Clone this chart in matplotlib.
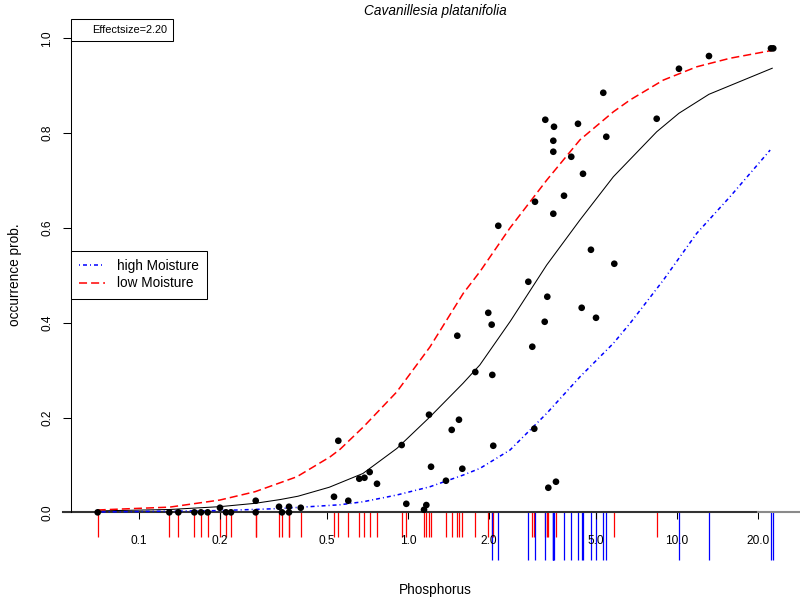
import matplotlib
matplotlib.use("Agg")
import matplotlib.pyplot as plt
from matplotlib.lines import Line2D

plt.rcParams['font.family'] = ['Liberation Sans', 'DejaVu Sans']
plt.rcParams['lines.scale_dashes'] = False

W, H = 800, 599

# sites with low moisture (red rug)
low_p = [0.0702, 0.1296, 0.140, 0.1606, 0.170, 0.180, 0.200, 0.2106, 0.2198,
         0.2716, 0.2716, 0.3315, 0.3401, 0.3611, 0.3611, 0.3993, 0.5308, 0.5507,
         0.5998, 0.659, 0.689, 0.7204, 0.767, 0.9475, 0.9856, 1.147, 1.170,
         1.197, 1.218, 1.384, 1.454, 1.525, 1.547, 1.592, 1.779, 1.988, 2.047,
         2.075, 2.898, 2.948, 3.223, 3.295, 3.324, 3.549, 5.847, 8.406]
low_occ = [0.0, 0.0, 0.0, 0.0, 0.0, 0.0, 0.0097, 0.0, 0.0,
           0.0245, 0.0, 0.0118, 0.0, 0.0118, 0.0, 0.0097, 0.0329, 0.151,
           0.0245, 0.0709, 0.073, 0.085, 0.0603, 0.142, 0.018, 0.0055, 0.0154,
           0.206, 0.0962, 0.0667, 0.174, 0.3726, 0.1954, 0.092, 0.296, 0.421, 0.396,
           0.1405, 0.3494, 0.1764, 0.4021, 0.4549, 0.0519, 0.0646, 0.5245, 0.8304]

# sites with high moisture (blue rug)
high_p = [2.058, 2.166, 2.801, 2.966, 3.239, 3.490, 3.469, 3.469, 3.469, 3.802,
          4.046, 4.285, 4.473, 4.423, 4.788, 5.0, 5.321, 5.460, 10.17, 13.15,
          22.36, 22.80]
high_occ = [0.290, 0.6046, 0.4865, 0.6553, 0.8283, 0.8135, 0.784, 0.7608, 0.63,
            0.668, 0.7502, 0.8198, 0.7143, 0.4316, 0.554, 0.4105, 0.8852, 0.7924,
            0.9359, 0.9627, 0.9789, 0.9789]

# fitted response curves
fit_p = [0.0702, 0.13, 0.2, 0.27, 0.335, 0.39, 0.51, 0.68, 0.91, 1.2, 1.6,
         1.85, 2.4, 3.28, 4.36, 5.8, 8.41, 10.17, 13.15, 22.6]
fit_all = [0.003, 0.006, 0.012, 0.019, 0.027, 0.034, 0.053, 0.082, 0.135, 0.200,
           0.272, 0.311, 0.403, 0.522, 0.617, 0.708, 0.803, 0.842, 0.882, 0.937]

lowfit_p = [0.0702, 0.13, 0.2, 0.27, 0.386, 0.513, 0.559, 0.682, 0.908, 1.207,
            1.605, 1.852, 2.394, 3.28, 4.36, 5.8, 6.69, 8.9, 11.84, 15.74, 22.8]
lowfit = [0.005, 0.011, 0.026, 0.0435, 0.075, 0.117, 0.133, 0.18, 0.254, 0.349,
          0.462, 0.508, 0.600, 0.701, 0.786, 0.845, 0.870, 0.912, 0.940, 0.958, 0.975]

highfit_p = [0.0702, 0.2, 0.334, 0.559, 0.682, 0.908, 1.207, 1.605, 1.852, 2.394,
             3.28, 4.36, 5.8, 6.69, 8.9, 11.84, 15.74, 22.2]
highfit = [0.0008, 0.0037, 0.008, 0.016, 0.0224, 0.0365, 0.054, 0.0787, 0.0928,
           0.1314, 0.2089, 0.286, 0.3565, 0.3987, 0.490, 0.5886, 0.6658, 0.7643]

x_ticks = [0.1, 0.2, 0.5, 1.0, 2.0, 5.0, 10.0, 20.0]
y_ticks = [0.0, 0.2, 0.4, 0.6, 0.8, 1.0]

fig = plt.figure(figsize=(W / 100, H / 100), dpi=100)
ax = fig.add_axes([71 / W, 1 - 531.3 / H, 728 / W, 511.9 / H])
ax.set_xscale('log')
ax.set_xlim(0.05587, 28.42)
ax.set_ylim(-0.04, 1.04)

for s in ['top', 'right', 'bottom']:
    ax.spines[s].set_visible(False)
ax.spines['bottom'].set_position(('data', 0))
ax.spines['left'].set_bounds(0, 1)
ax.spines['left'].set_linewidth(0.75)

ax.set_xticks(x_ticks)
ax.set_xticklabels([f"{t:.1f}" for t in x_ticks])
ax.minorticks_off()
ax.tick_params(axis='x', length=5, width=0.75, pad=11, labelsize=8.6)
ax.set_yticks(y_ticks)
ax.set_yticklabels([f"{t:.1f}" for t in y_ticks])
ax.tick_params(axis='y', length=5.8, width=0.75, pad=7, labelsize=8.6)
for lab in ax.get_yticklabels():
    lab.set_rotation(90)
    lab.set_va('center')

# zero line across the bottom
ax.plot([0.052, x_ticks[-1]], [0, 0], color='#333333', lw=1.5, clip_on=False, zorder=2)
ax.plot([x_ticks[-1], 28.42], [0, 0], color='#8a8a8a', lw=1.5, clip_on=False, zorder=2)

# rugs
ax.vlines(low_p, -0.051, 0, colors='red', lw=0.9, clip_on=False, zorder=1)
ax.vlines(high_p, -0.1006, 0, colors='blue', lw=0.9, clip_on=False, zorder=1)

# curves
ax.plot(fit_p, fit_all, color='black', lw=0.75, zorder=3)
ax.plot(lowfit_p, lowfit, color='red', lw=1.1, linestyle=(0, (5.8, 2.9)), zorder=3)
ax.plot(highfit_p, highfit, color='blue', lw=1.1,
        linestyle=(0, (0.72, 2.16, 2.88, 2.16)), zorder=3)

# observations
ax.scatter(low_p + high_p, low_occ + high_occ, s=23, color='black',
           edgecolors='none', zorder=5, clip_on=False)

leg1 = ax.legend([Line2D([], [], color='none')], ['Effectsize=2.20'],
                 loc='upper left', bbox_to_anchor=(71 / W, 1 - 19.4 / H),
                 bbox_transform=fig.transFigure, borderaxespad=0,
                 fancybox=False, edgecolor='black', framealpha=1,
                 prop={'size': 7.9}, borderpad=0.52, handlelength=0.9,
                 handletextpad=0.48)
leg1.get_frame().set_linewidth(0.75)
ax.add_artist(leg1)

handles = [Line2D([], [], color='blue', lw=1.1, linestyle=(0, (0.72, 2.16, 2.88, 2.16))),
           Line2D([], [], color='red', lw=1.1, linestyle=(0, (5.8, 2.9)))]
leg2 = ax.legend(handles, ['high Moisture', 'low Moisture'],
                 loc='upper left', bbox_to_anchor=(71 / W, 1 - 250.7 / H),
                 bbox_transform=fig.transFigure, borderaxespad=0,
                 fancybox=False, edgecolor='black', framealpha=1,
                 prop={'size': 9.85}, borderpad=0.6, handlelength=1.9,
                 handletextpad=0.88, labelspacing=0.25)
leg2.get_frame().set_linewidth(0.75)

fig.text(435 / W, 1 - 11 / H, 'Cavanillesia platanifolia', ha='center', va='center',
         fontsize=9.85, style='italic')
fig.text(435 / W, 1 - 590 / H, 'Phosphorus', ha='center', va='center', fontsize=9.85)
fig.text(15 / W, 1 - 275 / H, 'occurrence prob.', ha='center', va='center',
         fontsize=9.85, rotation=90)

fig.savefig('out.png', dpi=100)
